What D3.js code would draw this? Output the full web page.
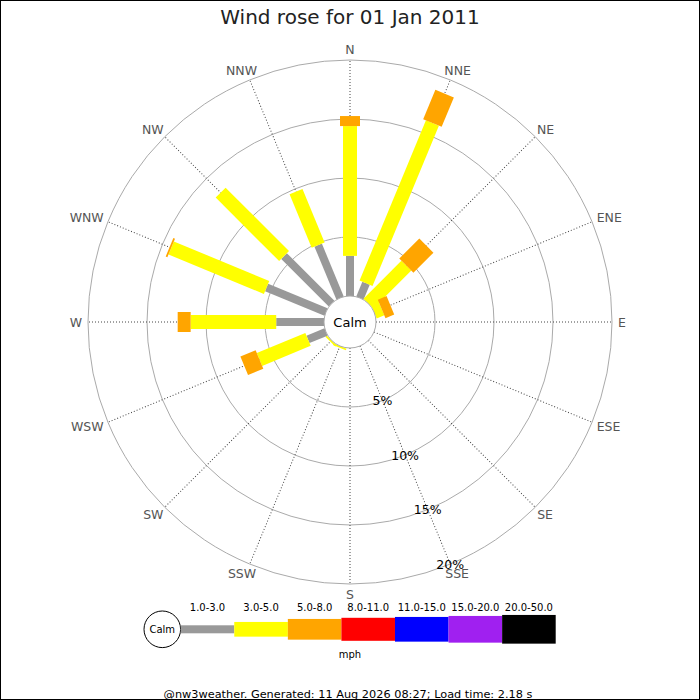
<!DOCTYPE html>
<html lang="en">
<head>
    <meta charset="utf-8">
    <title>Wind rose for 01 Jan 2011</title>
    <script src="https://d3js.org/d3.v7.min.js"></script>
    <style>
        body {
            margin: 0;
            font-family: "DejaVu Sans", sans-serif;
        }
        .dir-label {
            font-size: 12.5px;
            fill: #555;
        }
        .ring-label {
            font-size: 12.5px;
            fill: #000;
        }
        .leg-label {
            font-size: 10px;
            fill: #000;
        }
    </style>
</head>
<body>
<div id="my_dataviz"></div>
<script>

// directions, clockwise from north
const directions = ["N", "NNE", "NE", "ENE", "E", "ESE", "SE", "SSE",
                    "S", "SSW", "SW", "WSW", "W", "WNW", "NW", "NNW"];

// speed bands (mph)
const speedBands = ["1.0-3.0", "3.0-5.0", "5.0-8.0", "8.0-11.0", "11.0-15.0", "15.0-20.0", "20.0-50.0"];
const bandColors = ["#999999", "#ffff00", "#ffa500", "#ff0000", "#0000ff", "#a020f0", "#000000"];

// percentage of time in each band, per direction
const band1to3   = [3.4, 1.35, 0, 0, 0, 0, 0, 0, 0, 0, 0, 1.65, 4.05, 5.45, 5.7, 4.85];
const band3to5   = [11.0, 14.7, 4.55, 0.7, 0, 0, 0, 0, 0, 0.15, 0.15, 4.45, 7.25, 8.75, 7.6, 4.9];
const band5to8   = [0.85, 2.7, 2.4, 0.8, 0, 0, 0, 0, 0, 0, 0, 1.4, 1.1, 0.15, 0, 0];
const band8to11  = [0, 0, 0, 0, 0, 0, 0, 0, 0, 0, 0, 0, 0, 0, 0, 0];
const band11to15 = [0, 0, 0, 0, 0, 0, 0, 0, 0, 0, 0, 0, 0, 0, 0, 0];
const band15to20 = [0, 0, 0, 0, 0, 0, 0, 0, 0, 0, 0, 0, 0, 0, 0, 0];
const band20to50 = [0, 0, 0, 0, 0, 0, 0, 0, 0, 0, 0, 0, 0, 0, 0, 0];

const rangeTicks = [5, 10, 15, 20];

const titleText = "Wind rose for 01 Jan 2011";
const footerText = "@nw3weather. Generated: 11 Aug 2026 08:27; Load time: 2.18 s";

const allBands = [band1to3, band3to5, band5to8, band8to11, band11to15, band15to20, band20to50];

// leg widths on the plot and in the legend
const plotWidths = [8, 14, 20, 22, 24, 26, 28];
const legendHeights = [8, 14.7, 20.7, 23, 24.7, 26.7, 28.7];

const W = 700, H = 700;
const cx = 350, cy = 322;
const calmR = 26;
const labelR = 268;

const svg = d3.select("#my_dataviz")
  .append("svg")
    .attr("width", W)
    .attr("height", H);

svg.append("rect")
    .attr("x", 0.5).attr("y", 0.5)
    .attr("width", W - 1).attr("height", H - 1)
    .attr("fill", "#fff")
    .attr("stroke", "#000");

svg.append("text")
    .attr("x", cx)
    .attr("y", 24)
    .attr("text-anchor", "middle")
    .style("font-size", "20px")
    .style("fill", "#222")
    .text(titleText);

const r = d3.scaleLinear()
    .domain([0, 20])
    .range([calmR, 262]);

const angle = d3.scaleLinear()
    .domain([0, directions.length])
    .range([0, 360]);

const rad = i => angle(i) * Math.PI / 180;

const plot = svg.append("g")
    .attr("transform", `translate(${cx},${cy})`);

// grid circles
plot.selectAll(".ring")
  .data(rangeTicks)
  .join("circle")
    .attr("class", "ring")
    .attr("r", d => r(d))
    .attr("fill", "none")
    .attr("stroke", "#aaa");

// radial axes
plot.selectAll(".spoke")
  .data(directions)
  .join("line")
    .attr("class", "spoke")
    .attr("transform", (d, i) => `rotate(${angle(i)})`)
    .attr("x1", 0).attr("x2", 0)
    .attr("y1", -calmR)
    .attr("y2", -r(20))
    .attr("stroke", "#444")
    .attr("stroke-dasharray", "1,2");

// legs
directions.forEach((dir, i) => {
    const g = plot.append("g").attr("transform", `rotate(${angle(i)})`);
    let cum = 0;
    allBands.forEach((band, b) => {
        const v = band[i];
        if (v > 0) {
            g.append("rect")
                .attr("x", -plotWidths[b] / 2)
                .attr("width", plotWidths[b])
                .attr("y", -r(cum + v))
                .attr("height", r(cum + v) - r(cum))
                .attr("fill", bandColors[b]);
        }
        cum += v;
    });
});

// calm circle
plot.append("circle")
    .attr("r", calmR)
    .attr("fill", "#fff")
    .attr("stroke", "#aaa");

plot.append("text")
    .attr("y", 5)
    .attr("text-anchor", "middle")
    .style("font-size", "13px")
    .text("Calm");

// direction labels, pushed outwards by half their box
plot.selectAll(".dir-label")
  .data(directions)
  .join("text")
    .attr("class", "dir-label")
    .attr("dy", "0.36em")
    .attr("text-anchor", "middle")
    .text(d => d)
    .each(function(d, i) {
        const w = this.getComputedTextLength();
        const h = 9;
        const s = Math.sin(rad(i)), c = Math.cos(rad(i));
        d3.select(this)
            .attr("x", labelR * s + s * w / 2)
            .attr("y", -labelR * c - c * h / 2);
    });

// range labels along the SSE axis
const sse = rad(directions.indexOf("SSE"));
plot.selectAll(".ring-label")
  .data(rangeTicks)
  .join("text")
    .attr("class", "ring-label")
    .attr("x", d => r(d) * Math.sin(sse))
    .attr("y", d => -r(d) * Math.cos(sse))
    .attr("dy", "0.36em")
    .attr("text-anchor", "middle")
    .text(d => d + "%");

// legend
const legend = svg.append("g").attr("transform", "translate(0,629.3)");
const legX = d3.scaleLinear()
    .domain([0, speedBands.length])
    .range([180.7, 555.7]);

legend.append("circle")
    .attr("cx", 162.3)
    .attr("r", 18.3)
    .attr("fill", "#fff")
    .attr("stroke", "#000");

legend.append("text")
    .attr("x", 162.3)
    .attr("y", 3.6)
    .attr("text-anchor", "middle")
    .style("font-size", "10px")
    .text("Calm");

legend.selectAll(".leg-bar")
  .data(speedBands)
  .join("rect")
    .attr("class", "leg-bar")
    .attr("x", (d, i) => legX(i))
    .attr("width", (d, i) => legX(i + 1) - legX(i))
    .attr("y", (d, i) => -legendHeights[i] / 2)
    .attr("height", (d, i) => legendHeights[i])
    .attr("fill", (d, i) => bandColors[i]);

legend.selectAll(".leg-label")
  .data(speedBands)
  .join("text")
    .attr("class", "leg-label")
    .attr("x", (d, i) => (legX(i) + legX(i + 1)) / 2)
    .attr("y", -18)
    .attr("text-anchor", "middle")
    .text(d => d);

legend.append("text")
    .attr("class", "leg-label")
    .attr("x", 350)
    .attr("y", 28.5)
    .attr("text-anchor", "middle")
    .text("mph");

svg.append("text")
    .attr("x", 348)
    .attr("y", 697.5)
    .attr("text-anchor", "middle")
    .style("font-size", "11.3px")
    .text(footerText);

</script>
</body>
</html>
